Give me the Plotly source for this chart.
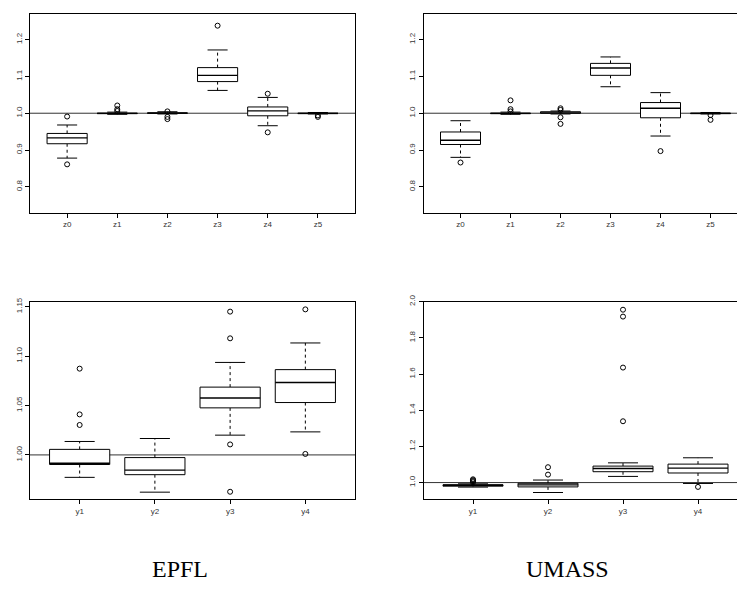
import plotly.graph_objects as go

# ---------------- data ----------------
top_cats = ["z0", "z1", "z2", "z3", "z4", "z5"]
bot_cats = ["y1", "y2", "y3", "y4"]

# EPFL top
epfl_z_q1 = [0.917, 0.999, 1.000, 1.086, 0.993, 0.999]
epfl_z_med = [0.933, 1.000, 1.001, 1.103, 1.0065, 1.000]
epfl_z_q3 = [0.945, 1.001, 1.002, 1.124, 1.017, 1.001]
epfl_z_lo = [0.878, 0.997, 0.998, 1.062, 0.966, 0.998]
epfl_z_hi = [0.968, 1.003, 1.004, 1.172, 1.043, 1.002]
epfl_z_out = [[0.991, 0.861], [1.006, 1.011, 1.021], [0.984, 0.990, 1.005],
              [1.238], [1.053, 0.948], [0.994, 0.990]]

# UMASS top
umass_z_q1 = [0.915, 0.999, 1.000, 1.103, 0.9876, 0.999]
umass_z_med = [0.9266, 1.000, 1.001, 1.123, 1.0134, 1.000]
umass_z_q3 = [0.949, 1.001, 1.004, 1.1355, 1.029, 1.001]
umass_z_lo = [0.880, 0.997, 0.998, 1.072, 0.938, 0.998]
umass_z_hi = [0.9796, 1.003, 1.006, 1.153, 1.056, 1.002]
umass_z_out = [[0.866], [1.005, 1.011, 1.035], [1.009, 1.0134, 0.989, 0.971],
               [], [0.897], [0.995, 0.982]]

# EPFL bottom
epfl_y_q1 = [0.9903, 0.980, 1.0476, 1.053]
epfl_y_med = [0.9916, 0.9846, 1.0576, 1.0733]
epfl_y_q3 = [1.0056, 0.9973, 1.0686, 1.0863]
epfl_y_lo = [0.9773, 0.9623, 1.020, 1.0233]
epfl_y_hi = [1.0136, 1.0166, 1.0936, 1.1133]
epfl_y_out = [[1.0873, 1.041, 1.0303], [], [1.145, 1.118, 1.0106, 0.9627], [1.1473, 1.001]]

# UMASS bottom
umass_y_q1 = [0.980, 0.976, 1.060, 1.053]
umass_y_med = [0.985, 0.987, 1.078, 1.080]
umass_y_q3 = [0.988, 0.996, 1.091, 1.102]
umass_y_lo = [0.975, 0.945, 1.034, 0.995]
umass_y_hi = [0.993, 1.014, 1.109, 1.137]
umass_y_out = [[1.002, 1.008, 1.013, 1.018], [1.085, 1.044],
               [1.956, 1.918, 1.636, 1.339], [0.976]]

top_ticks = [0.8, 0.9, 1.0, 1.1, 1.2]
top_ticktext = ["0.8", "0.9", "1.0", "1.1", "1.2"]
bl_ticks = [1.00, 1.05, 1.10, 1.15]
bl_ticktext = ["1.00", "1.05", "1.10", "1.15"]
br_ticks = [1.0, 1.2, 1.4, 1.6, 1.8, 2.0]
br_ticktext = ["1.0", "1.2", "1.4", "1.6", "1.8", "2.0"]

labels = ["EPFL", "UMASS"]

# ---------------- figure ----------------
W, H = 737, 589
fig = go.Figure()

BOXW = 0.8
CAPW = 0.4
LC = "black"


def add_panel(cats, q1, med, q3, lo, hi, outs, xa, ya):
    pos = list(range(1, len(cats) + 1))
    bx, by, mx, my, wx, wy, cx, cy, ox, oy = [], [], [], [], [], [], [], [], [], []
    for p, a, m, b, l, h, o in zip(pos, q1, med, q3, lo, hi, outs):
        bx += [p - BOXW / 2, p + BOXW / 2, p + BOXW / 2, p - BOXW / 2, p - BOXW / 2, None]
        by += [a, a, b, b, a, None]
        mx += [p - BOXW / 2, p + BOXW / 2, None]
        my += [m, m, None]
        wx += [p, p, None, p, p, None]
        wy += [b, h, None, a, l, None]
        cx += [p - CAPW / 2, p + CAPW / 2, None, p - CAPW / 2, p + CAPW / 2, None]
        cy += [h, h, None, l, l, None]
        for v in o:
            ox.append(p)
            oy.append(v)
    common = dict(xaxis=xa, yaxis=ya, showlegend=False, hoverinfo="skip")
    fig.add_trace(go.Scatter(x=wx, y=wy, mode="lines",
                             line=dict(color=LC, width=1, dash="3px,3px"), **common))
    fig.add_trace(go.Scatter(x=cx, y=cy, mode="lines",
                             line=dict(color=LC, width=1), **common))
    fig.add_trace(go.Scatter(x=bx, y=by, mode="lines", fill="toself", fillcolor="white",
                             line=dict(color=LC, width=1), **common))
    fig.add_trace(go.Scatter(x=mx, y=my, mode="lines",
                             line=dict(color=LC, width=1.4), **common))
    fig.add_trace(go.Scatter(x=ox, y=oy, mode="markers",
                             marker=dict(symbol="circle-open", size=5, color=LC,
                                         line=dict(width=1, color=LC)), **common))


add_panel(top_cats, epfl_z_q1, epfl_z_med, epfl_z_q3, epfl_z_lo, epfl_z_hi, epfl_z_out, "x", "y")
add_panel(top_cats, umass_z_q1, umass_z_med, umass_z_q3, umass_z_lo, umass_z_hi, umass_z_out, "x2", "y2")
add_panel(bot_cats, epfl_y_q1, epfl_y_med, epfl_y_q3, epfl_y_lo, epfl_y_hi, epfl_y_out, "x3", "y3")
add_panel(bot_cats, umass_y_q1, umass_y_med, umass_y_q3, umass_y_lo, umass_y_hi, umass_y_out, "x4", "y4")

tickfont = dict(family="Liberation Sans, Arial, sans-serif", size=8, color="#333")


def xaxis(domain, rng, cats, mirror=True):
    return dict(domain=domain, range=rng, tickvals=list(range(1, len(cats) + 1)),
                ticktext=cats, showgrid=False, zeroline=False, showline=True,
                linecolor="black", linewidth=1, mirror=mirror, ticks="outside",
                ticklen=4, tickcolor="black", tickfont=tickfont, fixedrange=True)


def yaxis(domain, rng, tv, tt, anchor, mirror=True):
    return dict(domain=domain, range=rng, tickvals=tv, ticktext=tt, tickangle=-90,
                showgrid=False, zeroline=False, showline=True, linecolor="black",
                linewidth=1, mirror=mirror, ticks="outside", ticklen=4,
                tickcolor="black", tickfont=tickfont, anchor=anchor, fixedrange=True)


def fx(a, b):
    return [a / W, b / W]


def fy(top, bot):
    return [1 - bot / H, 1 - top / H]


top_dom = fy(7, 208)
bot_dom = fy(298.3, 498.3)
left_dom = fx(30, 355)
right_dom = fx(423.5, 737)

fig.update_layout(
    width=W, height=H,
    margin=dict(l=0, r=0, t=0, b=0),
    paper_bgcolor="white", plot_bgcolor="white",
    xaxis=xaxis(left_dom, [0.26, 6.74], top_cats) | dict(anchor="y"),
    yaxis=yaxis(top_dom, [0.73, 1.27], top_ticks, top_ticktext, "x"),
    xaxis2=xaxis(right_dom, [0.26, 0.26 + (737 - 423.5) / 50.0], top_cats) | dict(anchor="y2"),
    yaxis2=yaxis(top_dom, [0.73, 1.27], top_ticks, top_ticktext, "x2", mirror=False),
    xaxis3=xaxis(left_dom, [0.34, 4.66], bot_cats) | dict(anchor="y3"),
    yaxis3=yaxis(bot_dom, [0.955, 1.155], bl_ticks, bl_ticktext, "x3"),
    xaxis4=xaxis(right_dom, [0.34, 0.34 + (737 - 423.5) / 75.0], bot_cats) | dict(anchor="y4"),
    yaxis4=yaxis(bot_dom, [0.907, 2.0], br_ticks, br_ticktext, "x4", mirror=False),
)

# reference line at 1.0 in each panel
for xr, yr in [("x", "y"), ("x2", "y2"), ("x3", "y3"), ("x4", "y4")]:
    fig.add_shape(type="line", xref=f"{xr} domain", x0=0, x1=1, yref=yr, y0=1.0, y1=1.0,
                  line=dict(color="#333", width=1), layer="below")

# panel group labels
for txt, cx in zip(labels, [180, 567]):
    fig.add_annotation(text=txt, xref="paper", yref="paper", x=cx / W, y=1 - 569 / H,
                       xanchor="center", yanchor="middle", showarrow=False,
                       font=dict(family="Liberation Serif, Times New Roman, serif",
                                 size=24, color="black"))

fig.write_html("out.html")
